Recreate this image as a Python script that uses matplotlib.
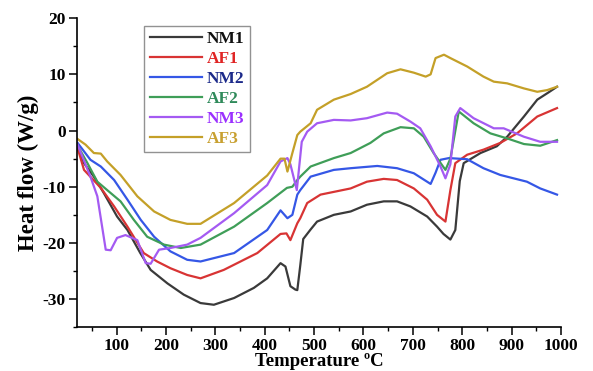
import matplotlib
matplotlib.use("Agg")
import matplotlib.pyplot as plt
from matplotlib.ticker import MultipleLocator

plt.rcParams['font.family'] = ['Liberation Serif', 'DejaVu Serif']
plt.rcParams['font.weight'] = 'bold'
plt.rcParams['axes.unicode_minus'] = False

# DSC curves
nm1_t = [21, 34, 54, 74, 101, 122, 148, 169, 203, 236, 270, 297, 338, 378, 405, 432, 442, 452, 462,
         466, 472, 478, 493, 506, 540, 574, 607, 641, 668, 695, 729, 749, 762, 776, 786, 795, 803,
         837, 870, 891, 925, 952, 975, 992]
nm1_v = [-2.8, -5.8, -8.2, -11.1, -15.3, -17.7, -21.8, -24.8, -27.2, -29.2, -30.7, -31.0, -29.8, -28.0, -26.3, -23.6, -24.2, -27.7, -28.3,
         -28.4, -24.0, -19.3, -17.6, -16.2, -15.0, -14.4, -13.2, -12.6, -12.6, -13.5, -15.3, -17.1, -18.4, -19.4, -17.7, -9.0, -5.8,
         -4.0, -2.8, -1.1, 2.5, 5.5, 6.8, 7.8]

af1_t = [21, 34, 68, 95, 122, 155, 182, 209, 243, 270, 317, 385, 432, 444, 452, 466, 472, 486, 513,
         574, 607, 641, 668, 702, 729, 749, 766, 776, 786, 810, 843, 877, 911, 952, 992]
af1_v = [-3.1, -7.0, -10.2, -13.5, -17.1, -21.8, -23.3, -24.5, -25.7, -26.3, -24.8, -21.8, -18.4, -18.3, -19.5, -16.5, -15.6, -12.9, -11.4,
         -10.3, -9.1, -8.6, -8.8, -10.3, -12.3, -15.0, -16.2, -10.6, -5.8, -4.3, -3.4, -2.2, -0.5, 2.5, 4.0]

nm2_t = [21, 47, 68, 95, 122, 149, 176, 209, 243, 270, 338, 405, 432, 446, 456, 466, 472, 493, 540,
         574, 628, 668, 702, 736, 746, 756, 773, 810, 843, 877, 931, 958, 992]
nm2_v = [-2.2, -5.2, -6.4, -8.8, -12.3, -15.9, -18.9, -21.5, -23.0, -23.3, -21.8, -17.7, -14.2, -15.6, -15.0, -11.4, -10.6, -8.2, -7.0,
         -6.7, -6.3, -6.7, -7.6, -9.5, -7.5, -5.2, -4.9, -5.1, -6.7, -7.9, -9.1, -10.3, -11.4]

af2_t = [21, 41, 61, 81, 108, 135, 162, 196, 230, 270, 338, 405, 445, 456, 466, 472, 493, 540, 574,
         614, 641, 675, 702, 722, 742, 766, 776, 793, 823, 857, 891, 925, 958, 992]
af2_v = [-2.7, -5.8, -9.1, -10.6, -12.6, -15.9, -18.9, -20.3, -20.9, -20.3, -17.1, -12.9, -10.2, -10.0, -8.8, -8.2, -6.4, -4.9, -4.0,
         -2.2, -0.5, 0.6, 0.4, -1.1, -4.0, -7.0, -5.0, 3.4, 1.3, -0.5, -1.4, -2.4, -2.7, -1.7]

nm3_t = [21, 47, 61, 78, 88, 101, 118, 142, 159, 169, 186, 209, 243, 270, 338, 405, 432, 446, 452, 465,
         475, 486, 506, 540, 574, 607, 648, 668, 695, 715, 736, 756, 766, 776, 786, 796, 823, 864, 884, 925, 958, 992]
nm3_v = [-2.5, -8.2, -11.7, -21.2, -21.3, -19.1, -18.6, -19.5, -23.6, -23.7, -21.2, -20.9, -20.3, -19.1, -14.7, -9.7, -5.5, -4.9, -6.0, -10.6,
         -2.0, -0.2, 1.3, 1.9, 1.8, 2.2, 3.2, 3.0, 1.6, 0.4, -2.8, -6.4, -8.5, -6.0, 2.5, 4.0, 2.2, 0.4, 0.4, -1.1, -2.0, -2.0]

af3_t = [21, 37, 54, 68, 81, 108, 142, 176, 209, 243, 270, 338, 405, 432, 440, 446, 456, 466, 472, 493, 506,
         540, 574, 607, 648, 675, 702, 726, 736, 746, 763, 776, 810, 843, 864, 891, 925, 952, 972, 992]
af3_v = [-1.5, -2.5, -4.0, -4.1, -5.5, -7.9, -11.7, -14.4, -15.9, -16.6, -16.6, -12.9, -8.0, -5.0, -5.0, -7.3, -4.0, -0.8, -0.2, 1.3, 3.7,
         5.5, 6.5, 7.8, 10.2, 10.9, 10.3, 9.6, 10.0, 12.9, 13.5, 12.9, 11.4, 9.6, 8.7, 8.4, 7.5, 6.9, 7.2, 7.8]

labels = ["NM1", "AF1", "NM2", "AF2", "NM3", "AF3"]
line_colors = ["#3a3a3a", "#d83434", "#3557e6", "#3f9e58", "#a45af2", "#c4a028"]
text_colors = ["#111111", "#e02424", "#1c2a8a", "#2f8a5a", "#9b30ff", "#c8a030"]

series = [(nm1_t, nm1_v), (af1_t, af1_v), (nm2_t, nm2_v),
          (af2_t, af2_v), (nm3_t, nm3_v), (af3_t, af3_v)]

fig = plt.figure(figsize=(5.93, 3.71), dpi=100)
ax = fig.add_axes([0.130, 0.118, 0.816, 0.833])

for (t, v), lab, c in zip(series, labels, line_colors):
    ax.plot(t, v, color=c, lw=1.6, label=lab)

ax.set_xlim(20, 1000)
ax.set_ylim(-35, 20)
ax.xaxis.set_major_locator(MultipleLocator(100))
ax.xaxis.set_minor_locator(MultipleLocator(50))
ax.yaxis.set_major_locator(MultipleLocator(10))
ax.yaxis.set_minor_locator(MultipleLocator(5))
ax.spines['top'].set_visible(False)
ax.spines['right'].set_visible(False)
ax.spines['left'].set_linewidth(1.2)
ax.spines['bottom'].set_linewidth(1.2)
ax.tick_params(which='major', direction='out', length=6, width=1.1, labelsize=12.5, pad=2)
ax.tick_params(which='minor', direction='out', length=3, width=1.0)
for lbl in ax.get_xticklabels() + ax.get_yticklabels():
    lbl.set_fontweight('bold')

ax.set_xlabel("Temperature \u00baC", fontsize=13.5, fontweight='bold', labelpad=-1)
ax.set_ylabel("Heat flow (W/g)", fontsize=16.5, fontweight='bold', labelpad=3)

leg = ax.legend(loc='upper left', bbox_to_anchor=(0.139, 0.975), fontsize=12.5,
                frameon=True, fancybox=False, handlelength=3.0, handletextpad=0.3,
                labelspacing=0.22, borderpad=0.3, borderaxespad=0)
leg.get_frame().set_edgecolor('#777777')
leg.get_frame().set_linewidth(1.0)
for txt, c in zip(leg.get_texts(), text_colors):
    txt.set_color(c)
    txt.set_fontweight('bold')

fig.savefig("out.png", dpi=100)
